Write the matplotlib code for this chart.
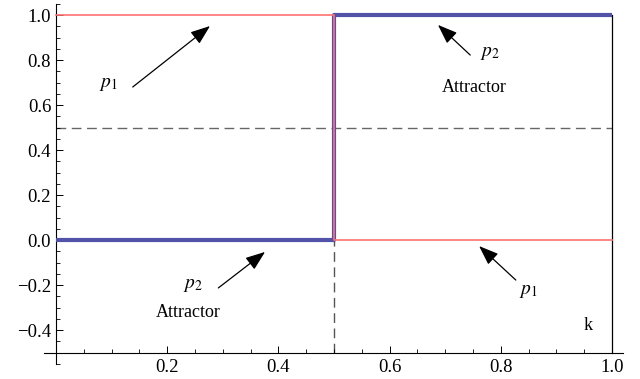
import matplotlib
matplotlib.use("Agg")
import matplotlib.pyplot as plt
import numpy as np

# Data
k_vals = [0.0, 0.5, 0.5, 1.0]
p1_vals = [1.0, 1.0, 0.0, 0.0]
p2_vals = [0.0, 0.0, 1.0, 1.0]
threshold_k = 0.5
threshold_p = 0.5
y_ticks = [-0.4, -0.2, 0.0, 0.2, 0.4, 0.6, 0.8, 1.0]
x_ticks = [0.2, 0.4, 0.6, 0.8, 1.0]

plt.rcParams['font.family'] = ['Liberation Serif', 'DejaVu Serif']
plt.rcParams['mathtext.fontset'] = 'stix'

W, H = 640, 379
fig = plt.figure(figsize=(6.4, 3.79), dpi=100)

xlim = (-0.022, 1.02)
ylim = (-0.55, 1.05)
sx = 556.0
sy = 225.0
left_px = 56 + xlim[0] * sx
right_px = 56 + xlim[1] * sx
top_px = 240 - ylim[1] * sy
bot_px = 240 - ylim[0] * sy
ax = fig.add_axes([left_px / W, 1 - bot_px / H, (right_px - left_px) / W, (bot_px - top_px) / H])
ax.set_xlim(*xlim)
ax.set_ylim(*ylim)

for s in ['top', 'right']:
    ax.spines[s].set_visible(False)
ax.spines['left'].set_position(('data', 0))
ax.spines['bottom'].set_position(('data', -0.5))
for s in ['left', 'bottom']:
    ax.spines[s].set_linewidth(0.8)
    ax.spines[s].set_color('black')

ax.set_yticks(y_ticks)
ax.set_yticklabels([f"{v:.1f}".replace('-', '\u2212') for v in y_ticks])
ax.set_xticks(x_ticks)
ax.set_xticklabels([f"{v:.1f}" for v in x_ticks])
ax.set_yticks(np.arange(-0.55, 1.0501, 0.05), minor=True)
ax.set_xticks(np.arange(0.0, 1.0001, 0.05), minor=True)
ax.tick_params(axis='both', which='major', direction='in', length=4.8, width=0.7, labelsize=13.5, pad=3.5)
ax.tick_params(axis='both', which='minor', direction='in', length=2.8, width=0.6)
ax.tick_params(axis='x', which='major', pad=4.5)

# dashed guides
ax.plot([0, 1.0], [threshold_p, threshold_p], color='#666666', lw=1.0, dashes=(7, 4), zorder=1)
ax.plot([threshold_k, threshold_k], [-0.5, 1.0], color='#555555', lw=1.0, dashes=(7, 4), zorder=1)
# right border line
ax.plot([1.0, 1.0], [-0.5, 1.0], color='black', lw=0.9, zorder=1)

ax.plot(k_vals, p2_vals, color='#5252A8', lw=3.0, solid_capstyle='butt', zorder=3)
ax.plot(k_vals, p1_vals, color='#FF7272', lw=1.2, zorder=4)

arrowprops = dict(arrowstyle='-|>,head_length=1.2,head_width=0.45', color='black', lw=0.9, shrinkA=0, shrinkB=0)

def ann(label, xy, xytext, tx, ty):
    ax.annotate('', xy=xy, xytext=xytext, arrowprops=arrowprops, zorder=5)
    ax.text(tx, ty, label, fontsize=14, ha='center', va='center')

ann(r'$p_1$', (0.277, 0.951), (0.138, 0.68), 0.095, 0.693)
ann(r'$p_2$', (0.687, 0.956), (0.745, 0.822), 0.781, 0.827)
ann(r'$p_2$', (0.376, -0.053), (0.292, -0.213), 0.246, -0.2)
ann(r'$p_1$', (0.761, -0.027), (0.827, -0.178), 0.849, -0.227)

ax.text(0.752, 0.68, 'Attractor', fontsize=13, ha='center', va='center')
ax.text(0.237, -0.324, 'Attractor', fontsize=13, ha='center', va='center')
ax.text(0.958, -0.378, 'k', fontsize=13, ha='center', va='center')

fig.savefig('out.png', dpi=100)
